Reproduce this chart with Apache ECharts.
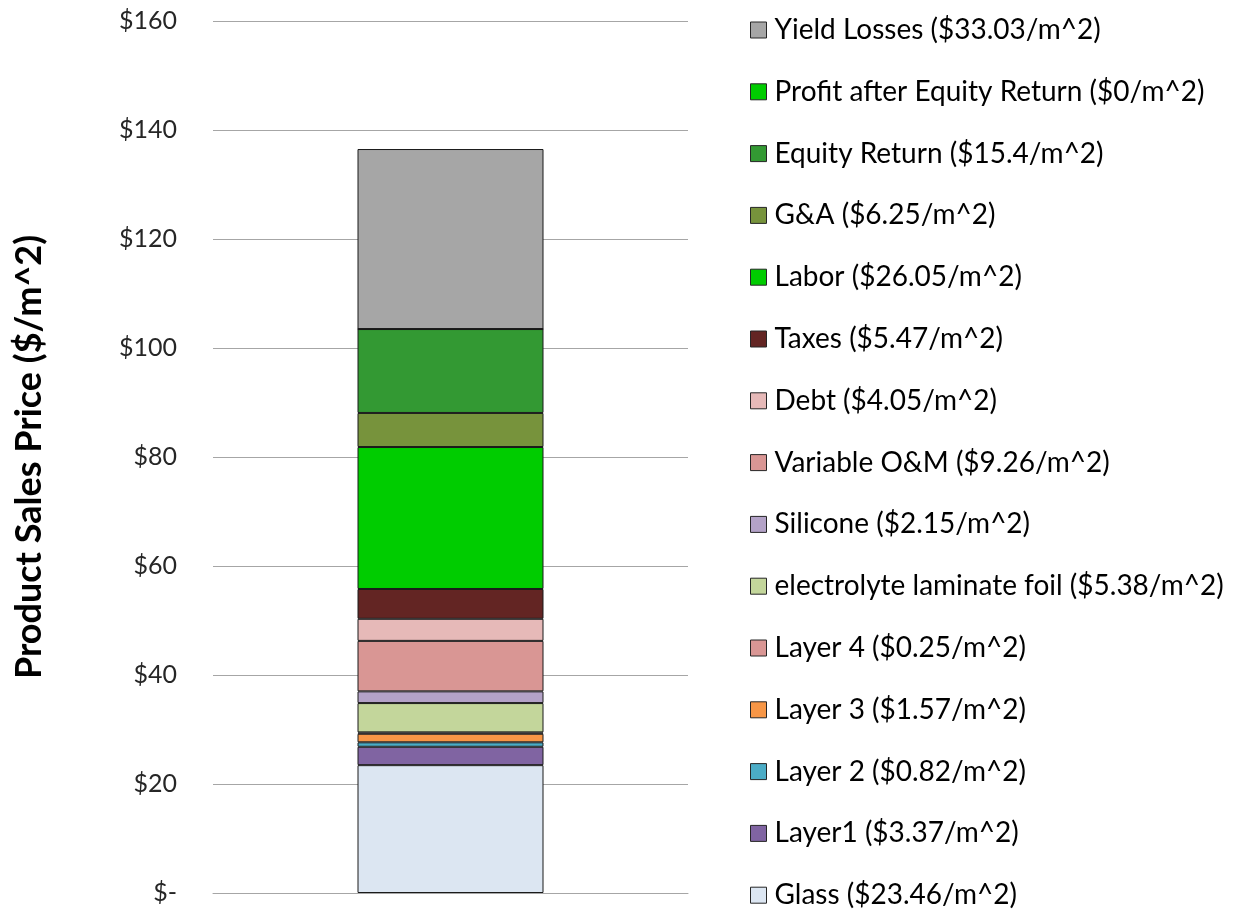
<!DOCTYPE html>
<html>
<head>
<meta charset="utf-8">
<script src="https://cdn.jsdelivr.net/npm/echarts@6/dist/echarts.min.js"></script>
<style>
  html, body { margin: 0; padding: 0; background: #fff; }
  #chart { width: 1247px; height: 913px; }
</style>
</head>
<body>
<div id="chart"></div>
<script>
// Cost components, bottom of the stack first
const components = [
  'Glass', 'Layer1', 'Layer 2', 'Layer 3', 'Layer 4',
  'electrolyte laminate foil', 'Silicone', 'Variable O&M', 'Debt', 'Taxes',
  'Labor', 'G&A', 'Equity Return', 'Profit after Equity Return', 'Yield Losses'
];
const costs = [
  23.46, 3.37, 0.82, 1.57, 0.25,
  5.38, 2.15, 9.26, 4.05, 5.47,
  26.05, 6.25, 15.4, 0, 33.03
];
const colors = [
  '#dce6f2', '#8064a2', '#4bacc6', '#f79646', '#d99694',
  '#c3d69b', '#b3a2c7', '#d99694', '#e6b9b8', '#632523',
  '#00cc00', '#77933c', '#339933', '#00cc00', '#a6a6a6'
];
const yTicks = [0, 20, 40, 60, 80, 100, 120, 140, 160];

const labelOf = (i) => components[i] + ' ($' + costs[i] + '/m^2)';
const font = 'Lato, "Open Sans", sans-serif';

const series = components.map((c, i) => ({
  name: labelOf(i),
  type: 'bar',
  stack: 'price',
  barWidth: 186,
  data: [costs[i]],
  itemStyle: { color: colors[i], borderColor: '#1a1a1a', borderWidth: 1 },
  emphasis: { disabled: true }
}));

const chart = echarts.init(document.getElementById('chart'), null, { renderer: 'canvas' });
chart.setOption({
  animation: false,
  backgroundColor: '#ffffff',
  grid: { left: 213, right: 559, top: 21, bottom: 20, containLabel: false },
  xAxis: {
    type: 'category',
    data: ['Product'],
    axisLine: { show: true, lineStyle: { color: '#a6a6a6', width: 1 } },
    axisTick: { show: false },
    axisLabel: { show: false }
  },
  yAxis: {
    type: 'value',
    min: yTicks[0],
    max: yTicks[yTicks.length - 1],
    interval: 20,
    name: 'Product Sales Price ($/m^2)',
    nameLocation: 'middle',
    nameGap: 166,
    nameTextStyle: { fontFamily: font, fontWeight: 'bold', fontSize: 36, color: '#000' },
    axisLine: { show: false },
    axisTick: { show: false },
    splitLine: { lineStyle: { color: '#a6a6a6', width: 1 } },
    axisLabel: {
      margin: 36,
      fontFamily: font,
      fontSize: 25,
      color: '#262626',
      formatter: (v) => (v === 0 ? '$-' : '$' + v)
    }
  },
  legend: {
    orient: 'vertical',
    left: 750,
    top: 16,
    height: 897,
    padding: 0,
    itemWidth: 16,
    itemHeight: 16,
    itemGap: 33.8,
    icon: 'rect',
    selectedMode: false,
    data: components.map((c, i) => labelOf(i)).reverse(),
    itemStyle: { borderColor: '#262626', borderWidth: 1 },
    textStyle: { fontFamily: font, fontSize: 28, color: '#000', lineHeight: 28, padding: [0, 0, 0, 3] }
  },
  series: series
});
</script>
</body>
</html>
